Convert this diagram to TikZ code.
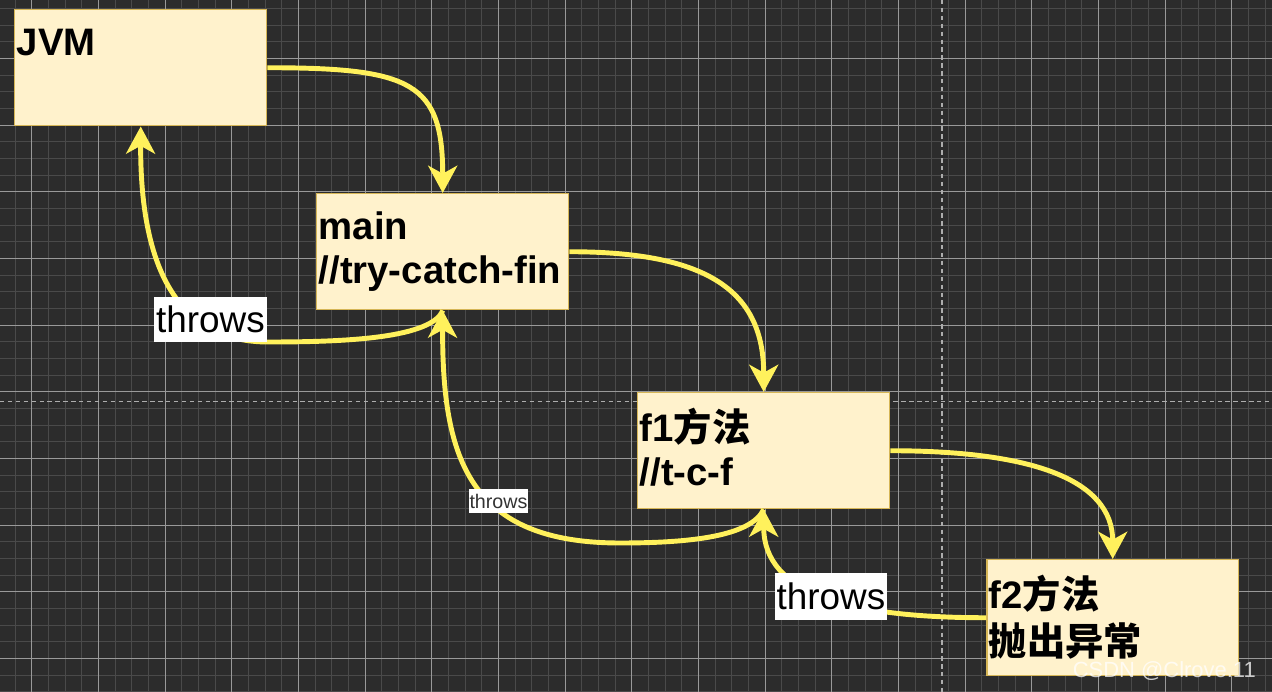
\documentclass[tikz,border=0pt]{standalone}
\usepackage{fontspec}
\setmainfont{Liberation Sans}
\newfontfamily\cjk{Noto Sans CJK SC}
\usetikzlibrary{arrows.meta}

\definecolor{bgdark}{HTML}{2C2C2C}
\definecolor{gminorc}{HTML}{4A4A4A}
\definecolor{gmajorc}{HTML}{999999}
\definecolor{blkfill}{HTML}{FFF2CC}
\definecolor{blkedge}{HTML}{D6B656}
\definecolor{flowc}{HTML}{FFF15C}

\newcommand\blktxt[1]{\parbox[b][2.32cm][t]{4.96cm}{\vspace*{0.3cm}#1}}

\begin{document}
\begin{tikzpicture}[x=0.02cm,y=-0.02cm,
  gminor/.style={draw=gminorc,line width=0.5pt},
  gmajor/.style={draw=gmajorc,line width=0.5pt},
  pagebrk/.style={draw=gmajorc!80!white,line width=0.6pt,dash pattern=on 2.5pt off 2pt},
  blk/.style={draw=blkedge,fill=blkfill,line width=0.85pt,inner xsep=0.04cm,inner ysep=0pt,
    anchor=north west,font=\fontsize{21.8}{25}\selectfont\bfseries},
  flow/.style={draw=flowc,line width=2.8pt,-{Stealth[length=15.5pt,width=16.5pt,inset=4.5pt]}},
  tag/.style={fill=white,inner xsep=1pt,inner ysep=0pt,minimum height=0.91cm,
    font=\fontsize{21}{25}\selectfont}]
  \useasboundingbox (0,0) rectangle (1272,692);
  \fill[bgdark] (0,0) rectangle (1272,692);
  % grid
  \foreach \i in {0,...,75} \draw[gminor] ({15+16.667*\i},0) -- ({15+16.667*\i},692);
  \foreach \i in {0,...,41} \draw[gminor] (0,{8.333+16.667*\i}) -- (1272,{8.333+16.667*\i});
  \foreach \i in {0,...,18} \draw[gmajor] ({31.667+66.667*\i},0) -- ({31.667+66.667*\i},692);
  \foreach \i in {1,...,10} \draw[gmajor] (0,{-8.333+66.667*\i}) -- (1272,{-8.333+66.667*\i});
  \draw[pagebrk] (942,0) -- (942,692);
  \draw[pagebrk] (0,401.7) -- (1272,401.7);

  % call stack
  \node[blk] (jvm) at (14,9) {\blktxt{\strut JVM}};
  \node[blk] (main) at (316,193) {\blktxt{\strut main\\\strut //try-catch-fin}};
  \node[blk] (f1) at (637,392) {\blktxt{\strut f1{\cjk 方法}\\\strut //t-c-f}};
  \node[blk] (f2) at (986,559) {\blktxt{\strut f2{\cjk 方法}\\\strut{\cjk 抛出异常}}};

  % calls
  \draw[flow] (jvm.east) .. controls +(145,0) and +(0,-110) .. (main.north);
  \draw[flow] (main.east) .. controls +(140,0) and +(0,-100) .. (f1.north);
  \draw[flow] (f1.east) .. controls +(140,0) and +(0,-80) .. (f2.north);

  % throws back
  \draw[flow] (f2.west) .. controls +(-135,0) and +(0,85) .. (f1.south);
  \draw[flow] (f1.south) .. controls +(-13,27) and (690,543) .. (620,543)
    .. controls (470,543) and (442,460) .. (main.south);
  \draw[flow] (main.south) .. controls +(-12,30) and (330,342) .. (266,342)
    .. controls (200,341) and (140,300) .. (jvm.south);

  \node[tag] (t1) at (210.5,319.5) {throws};
  \node[tag,minimum height=0.48cm,inner xsep=0.5pt,text=black!80,
    font=\fontsize{11.2}{13}\selectfont] (t2) at (498.5,501) {throws};
  \node[tag,minimum height=0.94cm] (t3) at (831,596.5) {throws};

  \node[anchor=base east,text=white,opacity=0.75,font=\fontsize{12.5}{15}\selectfont]
    (wm) at (1262,677) {CSDN @Clrove.11};
\end{tikzpicture}
\end{document}
